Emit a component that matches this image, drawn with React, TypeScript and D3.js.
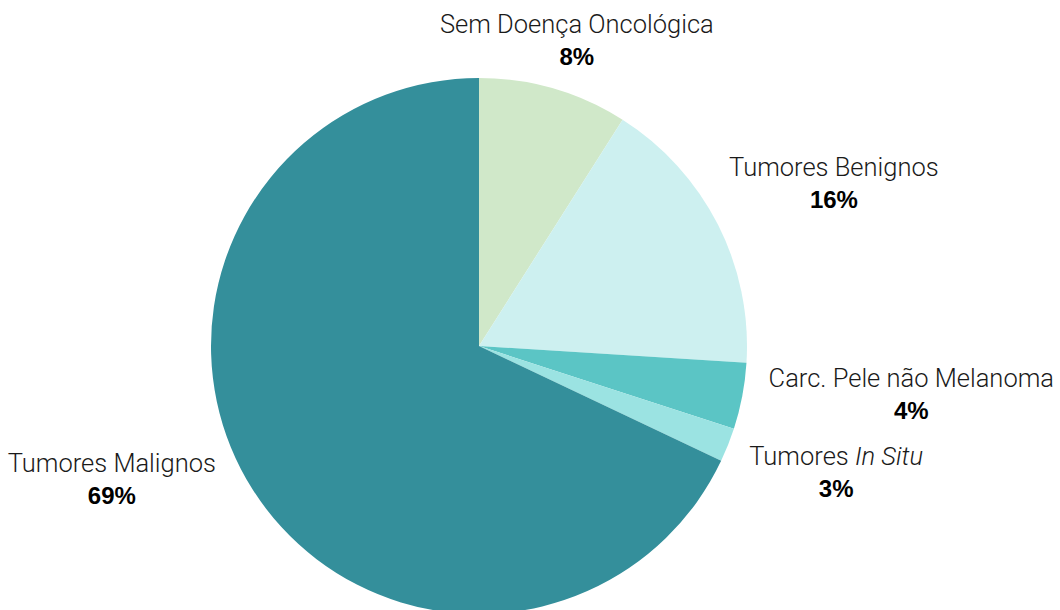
import React from "react";
import * as d3 from "d3";

const categories = ["Sem Doença Oncológica", "Tumores Benignos", "Carc. Pele não Melanoma", "Tumores In Situ", "Tumores Malignos"];
const values = [9.0, 17.0, 4.0, 2.05, 67.95];
const percentLabels = ["8%", "16%", "4%", "3%", "69%"];
const colors = ["#d0e8c9", "#cdf0f0", "#5bc5c5", "#9be3e2", "#348f9b"];

const W = 1060;
const H = 610;
const CX = 479;
const CY = 346;
const R = 268;
const LABEL_R = 322;
// text-block nudges relative to the outer centroid (Excel-like placement)
const nudges: [number, number][] = [[8, -4], [68, -24], [116, -19], [58, 0], [-95, -46]];

export default function App() {
  const pie = d3.pie<number>().sort(null).value((d) => d);
  const arcs = pie(values);
  const arc = d3.arc<d3.PieArcDatum<number>>().innerRadius(0).outerRadius(R);
  const labelArc = d3.arc<d3.PieArcDatum<number>>().innerRadius(LABEL_R).outerRadius(LABEL_R);

  return (
    <svg width={W} height={H} style={{ position: "absolute", left: 0, top: 0, background: "#fff" }}>
      <g transform={`translate(${CX},${CY})`}>
        {arcs.map((a, i) => (
          <path key={i} d={arc(a) || ""} fill={colors[i]} />
        ))}
        {arcs.map((a, i) => {
          const [x, y] = labelArc.centroid(a);
          const lx = x + nudges[i][0];
          const ly = y + nudges[i][1];
          const name = categories[i];
          return (
            <g key={"l" + i}>
              <text x={lx} y={ly} textAnchor="middle" fontFamily="Roboto, 'Liberation Sans', sans-serif" fontWeight={300} fontSize={25.5} fill="#1a1a1a">
                {name === "Tumores In Situ" ? (
                  <>
                    Tumores <tspan fontStyle="italic">In Situ</tspan>
                  </>
                ) : (
                  name
                )}
              </text>
              <text x={lx} y={ly + 32} textAnchor="middle" fontFamily="'Liberation Sans', Arial, sans-serif" fontWeight={700} fontSize={24} fill="#000">
                {percentLabels[i]}
              </text>
            </g>
          );
        })}
      </g>
    </svg>
  );
}
